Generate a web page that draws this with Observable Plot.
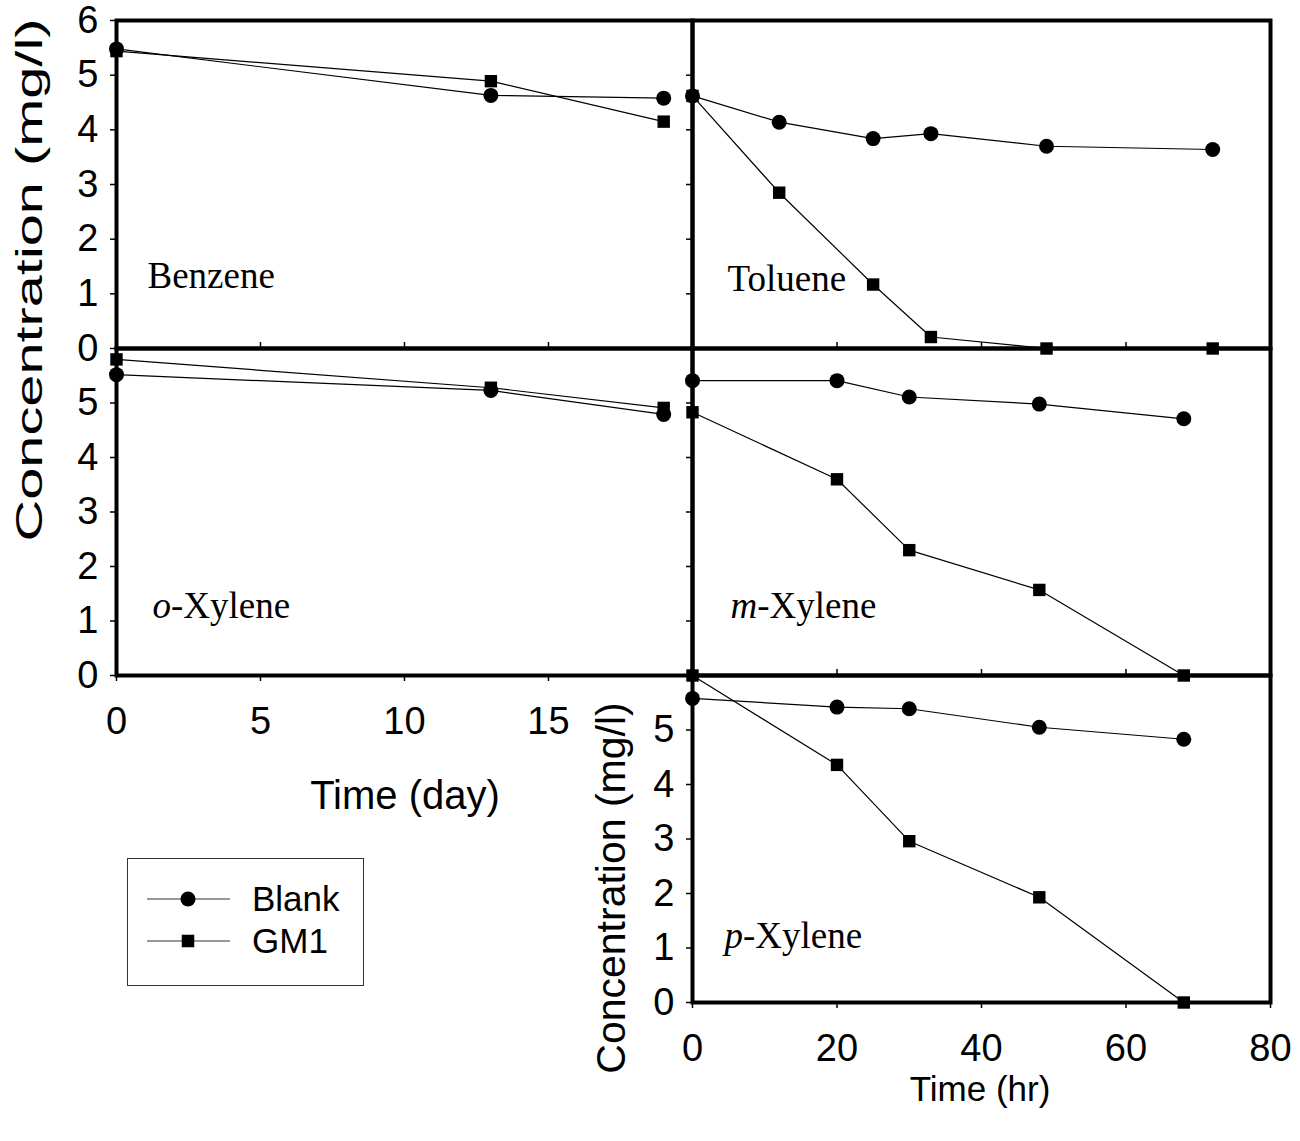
<!DOCTYPE html>
<html>
<head>
<meta charset="utf-8">
<script src="https://cdn.jsdelivr.net/npm/d3@7"></script>
<script src="https://cdn.jsdelivr.net/npm/@observablehq/plot@0.6"></script>
<style>
  html, body { margin: 0; padding: 0; background: #fff; }
  #chart { position: relative; width: 1300px; height: 1141px; overflow: hidden; background: #fff;
           font-family: "Liberation Sans", Arial, sans-serif; color: #000; }
  #chart > svg { position: absolute; left: 0; top: 0; }
  .atitle { position: absolute; white-space: nowrap; line-height: 1; transform: translate(-50%, -50%); }
  .ytitle { position: absolute; white-space: nowrap; line-height: 1; }
</style>
</head>
<body>
<div id="chart"></div>
<script>
// ---------------- data ----------------
const seriesNames = ["Blank", "GM1"];

const benzeneDays  = [0, 13, 19];
const benzeneBlank = [5.48, 4.63, 4.58];
const benzeneGM1   = [5.44, 4.89, 4.15];

const tolueneHours = [0, 12, 25, 33, 49, 72];
const tolueneBlank = [4.62, 4.14, 3.84, 3.93, 3.70, 3.64];
const tolueneGM1   = [4.62, 2.85, 1.17, 0.21, 0, 0];

const oXyleneDays  = [0, 13, 19];
const oXyleneBlank = [5.52, 5.23, 4.79];
const oXyleneGM1   = [5.80, 5.28, 4.91];

const mXyleneHours = [0, 20, 30, 48, 68];
const mXyleneBlank = [5.41, 5.41, 5.11, 4.98, 4.71];
const mXyleneGM1   = [4.83, 3.60, 2.30, 1.57, 0];

const pXyleneHours = [0, 20, 30, 48, 68];
const pXyleneBlank = [5.58, 5.42, 5.39, 5.05, 4.83];
const pXyleneGM1   = [6.0, 4.36, 2.96, 1.93, 0];

const dayTicks  = [0, 5, 10, 15];
const hourTicks = [0, 20, 40, 60, 80];
const concTicksFull = [0, 1, 2, 3, 4, 5, 6];
const concTicks = [0, 1, 2, 3, 4, 5];

// ---------------- layout ----------------
const W = 1300, H = 1141;
const chart = document.getElementById("chart");

function rowsOf(x, blank, gm1) {
  const rows = [];
  x.forEach((t, i) => {
    rows.push({t, c: blank[i], s: seriesNames[0]});
    rows.push({t, c: gm1[i], s: seriesNames[1]});
  });
  return rows;
}

function panel(o) {
  const [L, T, R, B] = o.frame;
  const rows = rowsOf(o.x, o.blank, o.gm1);
  const serif = "'Liberation Serif', 'Times New Roman', serif";
  const marks = [
    Plot.frame({stroke: "#000", strokeWidth: 4}),
    Plot.line(rows, {x: "t", y: "c", z: "s", stroke: "#000", strokeWidth: 1.2}),
    Plot.dot(rows.filter(d => d.s === "Blank"), {x: "t", y: "c", r: 7.5, symbol: "circle", fill: "#000", stroke: "none"}),
    Plot.dot(rows.filter(d => d.s === "GM1"), {x: "t", y: "c", r: 7, symbol: "square", fill: "#000", stroke: "none"}),
    Plot.axisY(o.yTicks, {label: null, tickSize: 6, tickPadding: 12, strokeWidth: 1.5, fontSize: 38,
      tickFormat: o.yLabels ? (d => d) : (() => "")})
  ];
  if (o.xAxis) {
    marks.push(Plot.axisX(o.xTicks, {label: null, tickSize: 6, tickPadding: 26, strokeWidth: 1.5, fontSize: 38, tickFormat: d => d}));
  } else {
    marks.push(Plot.tickX(o.xTicks, {x: d => d, insetTop: (B - T) - 6, stroke: "#000", strokeWidth: 1.5}));
  }
  if (o.prefix) {
    marks.push(Plot.text([o.prefix], {text: d => d, frameAnchor: "bottom-left", dx: o.dx, dy: o.dy,
      textAnchor: "start", lineAnchor: "bottom", fontFamily: serif, fontSize: 37, fontStyle: "italic", fill: "#000"}));
  }
  marks.push(Plot.text([o.name], {text: d => d, frameAnchor: "bottom-left", dx: o.dx + (o.prefixW || 0), dy: o.dy,
    textAnchor: "start", lineAnchor: "bottom", fontFamily: serif, fontSize: 37, fill: "#000"}));

  const svg = Plot.plot({
    width: W, height: H,
    marginLeft: L, marginTop: T, marginRight: W - R, marginBottom: H - B,
    x: {domain: o.xDomain, axis: null, label: null},
    y: {domain: [0, 6], axis: null, label: null},
    style: {background: "transparent", fontFamily: "'Liberation Sans', Arial, sans-serif", fontSize: "38px", color: "#000", overflow: "visible"},
    marks
  });
  chart.appendChild(svg);
}

panel({frame: [116, 20, 692, 348], xDomain: [0, 20], x: benzeneDays, blank: benzeneBlank, gm1: benzeneGM1,
       xTicks: [5, 10, 15], yTicks: concTicksFull, yLabels: true, name: "Benzene", dx: 31, dy: -61});
panel({frame: [692, 20, 1270, 348], xDomain: [0, 80], x: tolueneHours, blank: tolueneBlank, gm1: tolueneGM1,
       xTicks: [20, 40, 60], yTicks: [1, 2, 3, 4, 5], yLabels: false, name: "Toluene", dx: 35, dy: -58});
panel({frame: [116, 348, 692, 675], xDomain: [0, 20], x: oXyleneDays, blank: oXyleneBlank, gm1: oXyleneGM1,
       xAxis: true, xTicks: dayTicks, yTicks: concTicks, yLabels: true,
       prefix: "o", prefixW: 18.5, name: "-Xylene", dx: 36, dy: -58});
panel({frame: [692, 348, 1270, 675], xDomain: [0, 80], x: mXyleneHours, blank: mXyleneBlank, gm1: mXyleneGM1,
       xTicks: [20, 40, 60], yTicks: [1, 2, 3, 4, 5], yLabels: false,
       prefix: "m", prefixW: 26.7, name: "-Xylene", dx: 38, dy: -58});
panel({frame: [692, 675, 1270, 1002], xDomain: [0, 80], x: pXyleneHours, blank: pXyleneBlank, gm1: pXyleneGM1,
       xAxis: true, xTicks: hourTicks, yTicks: concTicks, yLabels: true,
       prefix: "p", prefixW: 18.5, name: "-Xylene", dx: 32, dy: -55});

// ---------------- axis titles ----------------
function title(text, x, y, size) {
  const d = document.createElement("div");
  d.className = "atitle";
  d.textContent = text;
  d.style.left = x + "px"; d.style.top = y + "px"; d.style.fontSize = size + "px";
  chart.appendChild(d);
}
function ytitle(text, x, y, size, stretch) {
  const d = document.createElement("div");
  d.className = "ytitle";
  d.textContent = text;
  d.style.left = x + "px"; d.style.top = y + "px"; d.style.fontSize = size + "px";
  d.style.transform = `translate(-50%, -50%) rotate(-90deg) scaleX(${stretch})`;
  chart.appendChild(d);
}
title("Time (day)", 405, 795, 40);
title("Time (hr)", 980, 1088, 35);
ytitle("Concentration (mg/l)", 29, 280, 37, 1.56);
ytitle("Concentration (mg/l)", 611, 888, 41, 1);

// ---------------- legend ----------------
const leg = d3.create("svg").attr("width", W).attr("height", H);
leg.append("rect").attr("x", 127.5).attr("y", 858.5).attr("width", 236).attr("height", 127)
   .attr("fill", "#fff").attr("stroke", "#333").attr("stroke-width", 1);
const items = [{name: seriesNames[0], sym: d3.symbolCircle, size: Math.PI * 7.5 * 7.5, y: 899},
               {name: seriesNames[1], sym: d3.symbolSquare, size: 12.5 * 12.5, y: 941}];
items.forEach(it => {
  leg.append("line").attr("x1", 147).attr("x2", 230).attr("y1", it.y).attr("y2", it.y)
     .attr("stroke", "#333").attr("stroke-width", 1.2);
  leg.append("path").attr("d", d3.symbol(it.sym, it.size)()).attr("transform", `translate(188,${it.y})`).attr("fill", "#000");
  leg.append("text").attr("x", 252).attr("y", it.y).attr("dy", "0.35em").text(it.name)
     .attr("font-family", "'Liberation Sans', Arial, sans-serif").attr("font-size", 35).attr("fill", "#000");
});
chart.appendChild(leg.node());
</script>
</body>
</html>
